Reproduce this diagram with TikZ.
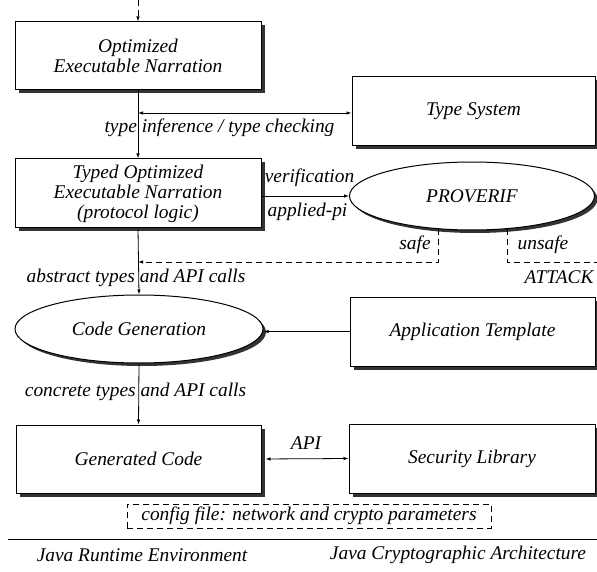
\documentclass[tikz,border=0pt]{standalone}
\usepackage{fontspec}
\setmainfont{Liberation Serif}
\usetikzlibrary{shapes.geometric,arrows.meta}
\definecolor{shadowc}{gray}{0.2}
\begin{document}
\begin{tikzpicture}[x=1pt,y=-1pt,
  every node/.style={font=\fontsize{19.4}{20}\selectfont\itshape, inner sep=0pt},
  bx/.style={draw, fill=white, line width=1pt, rectangle, align=center},
  el/.style={draw, fill=white, line width=1pt, ellipse, align=center},
  arr/.style={line width=0.8pt, -{Latex[length=5pt,width=3.5pt]}},
  darr/.style={line width=0.8pt, {Latex[length=5pt,width=3.5pt]}-{Latex[length=5pt,width=3.5pt]}},
  dsh/.style={line width=0.8pt, dash pattern=on 6pt off 4pt}
]
\useasboundingbox (0,0) rectangle (597,572);

% drop shadows
\foreach \cx/\cy/\w/\h in {138/56/246/68, 473.5/111.5/243/69, 138/193.5/246/69, 472.5/331.5/245/69, 138.5/459/245/68, 472/458.5/246/69}{
  \path[fill=shadowc] (\cx-\w/2+3.5,\cy-\h/2+3.5) rectangle (\cx+\w/2+3.5,\cy+\h/2+3.5);
}
\path[fill=shadowc] (475,199) ellipse (122.5 and 34);
\path[fill=shadowc] (142,332) ellipse (124 and 34);

\node[bx, minimum width=246pt, minimum height=68pt] (n1) at (138,56) {Optimized\\Executable Narration};
\node[bx, minimum width=243pt, minimum height=69pt] (ts) at (473.5,111.5) {Type System};
\node[bx, minimum width=246pt, minimum height=69pt] (n2) at (138,193.5) {Typed Optimized\\Executable Narration\\(protocol logic)};
\node[el, minimum width=245pt, minimum height=68pt] (pv) at (472,196) {PROVERIF};
\node[el, minimum width=248pt, minimum height=68pt] (cg) at (139,329) {Code Generation};
\node[bx, minimum width=245pt, minimum height=69pt] (at) at (472.5,331.5) {Application Template};
\node[bx, minimum width=245pt, minimum height=68pt] (gc) at (138.5,459) {Generated Code};
\node[bx, minimum width=246pt, minimum height=69pt] (sl) at (472,458.5) {Security Library};
\node[draw, dsh, minimum width=364pt, minimum height=24pt] (cfg) at (309,516) {config file: network and crypto parameters};

\node (l1) at (219.5,128) {type inference / type checking};
\node (l2) at (309.5,178) {verification};
\node (l3) at (307.5,212) {applied-pi};
\node (l4) at (415,245) {safe};
\node (l5) at (543,245) {unsafe};
\node (l6) at (559,277) {ATTACK};
\node (l7) at (136,278) {abstract types and API calls};
\node (l8) at (135.5,392) {concrete types and API calls};
\node (l9) at (306,443) {API};
\node (j1t) at (142,555) {Java Runtime Environment};
\node (j2t) at (458,555) {Java Cryptographic Architecture};

\coordinate (top) at (138,0);
\coordinate (c1) at (138,113);
\coordinate (c2) at (138,262);
\coordinate (c3) at (597,262);
\coordinate (la) at (8,539);
\coordinate (lb) at (597,539);

\draw[arr, dsh] (top) -- (n1.north);
\draw[arr] (n1.south) -- (n2.north);
\draw[darr] (c1) -- (c1 -| ts.west);
\draw[arr] (n2.east |- pv.west) -- (pv.west);
\draw[arr, dsh] (pv.225.7) |- (c2);
\draw[dsh] (pv.317.9) |- (c3);
\draw[arr] (n2.south) -- (cg.north);
\draw[arr] (at.west) -- (at.west -| cg.east);
\draw[arr] (cg.south) -- (gc.north);
\draw[darr, shorten <=4pt] (gc.east) -- (sl.west);
\draw[line width=1pt] (la) -- (lb);
\end{tikzpicture}
\end{document}
